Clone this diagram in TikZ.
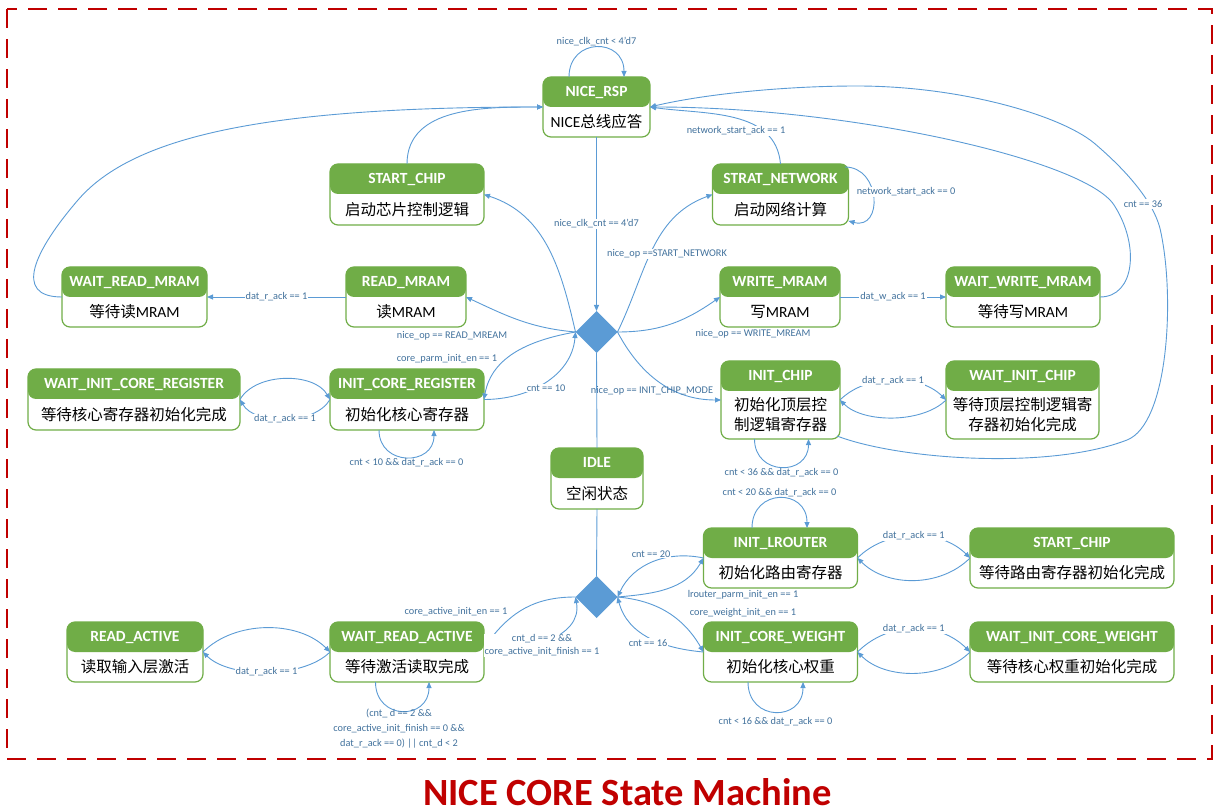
\documentclass[tikz,border=0pt]{standalone}
\usepackage{fontspec}
\setmainfont{Carlito}
\newfontfamily\cjk{Noto Sans CJK SC}
\usepackage{tikz}
\usetikzlibrary{shapes.geometric, calc, arrows.meta}

\definecolor{stgreen}{HTML}{70AD47}
\definecolor{lnblue}{HTML}{5B9BD5}
\definecolor{lbblue}{HTML}{41719C}
\definecolor{framered}{HTML}{C00000}

% state box: name, x, y, width, height, title, body
\newcommand{\fsmstate}[7]{%
  \node[statebox, minimum width=#4pt, minimum height=#5pt] (#1) at (#2,#3) {};
  \node[hdtext] (#1-t) at ([yshift=-19.5pt]#1.north) {#6};
  \node[bdtext] (#1-b) at ($(#1.south)!0.5!([yshift=-30pt]#1.north)$) {#7};
}

\begin{document}
\begin{tikzpicture}[x=1pt, y=1pt,
    statebox/.style={draw=stgreen, line width=1.2pt, rounded corners=8pt, fill=white, inner sep=0pt, outer sep=0pt,
      path picture={\fill[stgreen] (path picture bounding box.north west) rectangle ([yshift=-30pt]path picture bounding box.north east);}},
    hdtext/.style={font=\fontsize{15.5}{18}\selectfont\bfseries, text=white, anchor=base, inner sep=0pt},
    bdtext/.style={font=\fontsize{15.5}{20}\selectfont, align=center, inner sep=0pt},
    decide/.style={diamond, fill=lnblue, minimum width=42pt, minimum height=42pt, inner sep=0pt, outer sep=0pt},
    trans/.style={draw=lnblue, line width=0.9pt, -{Triangle[length=6pt,width=5pt]}},
    plainln/.style={draw=lnblue, line width=0.9pt},
    cond/.style={font=\fontsize{10.3}{13}\selectfont, text=lbblue, inner sep=1pt},
    condw/.style={cond, fill=white}]

        \useasboundingbox (0,0) rectangle (1219,-810);

        % Frame and title
        \draw[framered, line width=2.5pt, dash pattern=on 19pt off 11pt] (7,-9) rectangle (1212,-759);
        \node[font=\fontsize{38.5}{40}\selectfont\bfseries, text=framered, anchor=base, inner sep=0pt] (title) at (627.4,-805) {NICE CORE State Machine};

        % States
        \fsmstate{rsp}{596.5}{-107}{107}{60}{NICE\_RSP}{NICE{\cjk 总线应答}}
        \fsmstate{stchip}{407}{-194.5}{154}{61}{START\_CHIP}{{\cjk 启动芯片控制逻辑}}
        \fsmstate{stnet}{780.5}{-194.5}{136}{61}{STRAT\_NETWORK}{{\cjk 启动网络计算}}
        \fsmstate{wrmram}{134.5}{-297}{145}{60}{WAIT\_READ\_MRAM}{{\cjk 等待读}MRAM}
        \fsmstate{rmram}{406}{-297}{120}{60}{READ\_MRAM}{{\cjk 读}MRAM}
        \fsmstate{wmram}{780}{-297}{120}{60}{WRITE\_MRAM}{{\cjk 写}MRAM}
        \fsmstate{wwmram}{1023}{-297}{154}{60}{WAIT\_WRITE\_MRAM}{{\cjk 等待写}MRAM}
        \fsmstate{wicreg}{134}{-399.5}{212}{61}{WAIT\_INIT\_CORE\_REGISTER}{{\cjk 等待核心寄存器初始化完成}}
        \fsmstate{icreg}{407}{-399.5}{154}{61}{INIT\_CORE\_REGISTER}{{\cjk 初始化核心寄存器}}
        \fsmstate{ichip}{780.5}{-400}{119}{78}{INIT\_CHIP}{{\cjk 初始化顶层控}\\{\cjk 制逻辑寄存器}}
        \fsmstate{wichip}{1022.5}{-400}{153}{78}{WAIT\_INIT\_CHIP}{{\cjk 等待顶层控制逻辑寄}\\{\cjk 存器初始化完成}}
        \fsmstate{idle}{597}{-478.5}{92}{61}{IDLE}{{\cjk 空闲状态}}
        \fsmstate{ilr}{780.5}{-558}{154}{60}{INIT\_LROUTER}{{\cjk 初始化路由寄存器}}
        \fsmstate{stchipb}{1072}{-558}{204}{60}{START\_CHIP}{{\cjk 等待路由寄存器初始化完成}}
        \fsmstate{ract}{135}{-652}{136}{60}{READ\_ACTIVE}{{\cjk 读取输入层激活}}
        \fsmstate{wract}{407}{-652}{154}{60}{WAIT\_READ\_ACTIVE}{{\cjk 等待激活读取完成}}
        \fsmstate{icw}{780.5}{-652}{154}{60}{INIT\_CORE\_WEIGHT}{{\cjk 初始化核心权重}}
        \fsmstate{wicw}{1072}{-652}{204}{60}{WAIT\_INIT\_CORE\_WEIGHT}{{\cjk 等待核心权重初始化完成}}

        % Decision points
        \node[decide] (dtop) at (596.5,-332) {};
        \node[decide] (dbot) at (596.5,-597) {};

        % NICE_RSP
        \draw[trans] ([xshift=-27.5pt]rsp.north) to[out=90,in=90,looseness=1.85] node[cond,above] (l-rsp) {nice\_clk\_cnt < 4'd7} ([xshift=27.5pt]rsp.north);
        \draw[trans] (rsp.south) -- node[condw] (l-clk) {nice\_clk\_cnt == 4'd7} (dtop.north);
        \draw[trans] (wrmram.west) .. controls (12,-297) and (35,-250) .. (78,-200) .. controls (134,-135) and (270,-107) .. (rsp.west);
        \draw[trans] (stchip.north) to[out=90,in=180] (rsp.west);
        \draw[trans] (stnet.north) to[out=95,in=-8] (rsp.east);
        \node[condw] (l-netack1) at (736,-131) {network\_start\_ack == 1};
        \draw[trans] (wwmram.east) .. controls (1135,-297) and (1140,-245) .. (1114,-205) .. controls (1085,-160) and (850,-107) .. (rsp.east);
        \draw[trans] ([shift={(-3,3)}]ichip.south east) .. controls (900,-460) and (1050,-470) .. (1127,-440) .. controls (1168,-424) and (1175,-300) .. (1161,-233) .. controls (1155,-200) and (1120,-165) .. (1094,-143) .. controls (1060,-115) and (960,-86) .. (857,-86) .. controls (780,-86) and (700,-95) .. (rsp.east);
        \node[condw] (l-cnt36) at (1143,-204) {cnt == 36};

        % Upper decision
        \draw[trans] (dtop.west) to[out=103,in=-18] (stchip.east);
        \draw[trans] (dtop.west) to[out=175,in=-25] (rmram.east);
        \node[cond] (l-rdop) at (452,-336) {nice\_op == READ\_MREAM};
        \draw[trans] (dtop.west) to[out=190,in=80] (icreg.east);
        \node[cond] (l-parm) at (447,-359) {core\_parm\_init\_en == 1};
        \draw[trans] (icreg.east) to[out=0,in=-95] (dtop.west);
        \node[condw] (l-cnt10) at (546,-388) {cnt == 10};
        \draw[trans] (dtop.east) to[out=64,in=200] (stnet.west);
        \node[condw] (l-netop) at (667,-254) {nice\_op ==START\_NETWORK};
        \draw[trans] (dtop.east) to[out=0,in=215] (wmram.west);
        \node[cond] (l-wrop) at (753,-334) {nice\_op == WRITE\_MREAM};
        \draw[trans] (dtop.east) to[out=-62,in=180] (ichip.west);
        \node[cond] (l-chipop) at (652,-391) {nice\_op == INIT\_CHIP\_MODE};
        \draw[plainln] (dtop.south) -- (idle.north);
        \draw[plainln] (idle.south) -- (dbot.north);

        % Read and write MRAM
        \draw[trans] (rmram.west) -- node[condw] (l-rmram) {dat\_r\_ack == 1} (wrmram.east);
        \draw[trans] (wmram.east) -- node[condw] (l-wmram) {dat\_w\_ack == 1} (wwmram.west);
        \draw[trans] ([shift={(-3.5,-3)}]stnet.north east) to[out=0,in=-15,looseness=1.7] ([yshift=4]stnet.south east);
        \node[condw] (l-netack0) at (906,-192) {network\_start\_ack == 0};

        % Core register
        \draw[trans] (wicreg.east) to[out=60,in=120,looseness=0.9] (icreg.west);
        \draw[trans] (icreg.west) to[out=-120,in=-60,looseness=0.85] node[condw] (l-wicreg) {dat\_r\_ack == 1} (wicreg.east);
        \draw[trans] ([xshift=-28pt]icreg.south) to[out=-90,in=-90,looseness=1.7] node[cond,below] (l-icreg) {cnt < 10 \&\& dat\_r\_ack == 0} ([xshift=27pt]icreg.south);

        % Init chip
        \draw[trans] (ichip.east) to[out=45,in=135,looseness=0.9] node[condw] (l-ichip) {dat\_r\_ack == 1} (wichip.west);
        \draw[trans] (wichip.west) to[out=-135,in=-45,looseness=0.8] (ichip.east);
        \draw[trans] ([xshift=-26pt]ichip.south) to[out=-90,in=-90,looseness=1.77] node[cond,below] (l-ichipl) {cnt < 36 \&\& dat\_r\_ack == 0} ([xshift=28pt]ichip.south);

        % Lower decision
        \draw[trans] (dbot.east) to[out=5,in=240] (ilr.west);
        \node[cond] (l-lrparm) at (743,-595) {lrouter\_parm\_init\_en == 1};
        \draw[trans] (ilr.west) to[out=168,in=65] (dbot.east);
        \node[condw] (l-cnt20) at (651,-554) {cnt == 20};
        \draw[trans] (dbot.east) to[out=-5,in=120] (icw.west);
        \node[cond] (l-cwparm) at (743,-613) {core\_weight\_init\_en == 1};
        \draw[trans] (icw.west) to[out=175,in=-75] (dbot.east);
        \node[condw] (l-cnt16) at (648,-643) {cnt == 16};
        \coordinate (wract-in) at ([shift={(10.5,-12)}]wract.north east);
        \draw[plainln] (dbot.west) to[out=180,in=50] (wract-in);
        \node[cond] (l-actinit) at (456,-612) {core\_active\_init\_en == 1};
        \draw[trans] (wract.east) to[out=0,in=-80] (dbot.west);
        \node[condw, align=center] (l-actfin) at (542,-645.5) {cnt\_d == 2 \&\&\\core\_active\_init\_finish == 1};

        % Router and weights
        \draw[trans] ([xshift=-28.5pt]ilr.north) to[out=90,in=90,looseness=1.86] node[cond,above] (l-ilrl) {cnt < 20 \&\& dat\_r\_ack == 0} ([xshift=26.5pt]ilr.north);
        \draw[trans] (ilr.east) to[out=45,in=135,looseness=0.95] node[condw] (l-ilr) {dat\_r\_ack == 1} (stchipb.west);
        \draw[trans] (stchipb.west) to[out=-135,in=-45,looseness=0.95] (ilr.east);
        \draw[trans] (icw.east) to[out=45,in=135,looseness=1.0] node[condw] (l-icw) {dat\_r\_ack == 1} (wicw.west);
        \draw[trans] (wicw.west) to[out=-135,in=-45,looseness=0.9] (icw.east);
        \draw[trans] ([xshift=-32.5pt]icw.south) to[out=-90,in=-90,looseness=1.86] node[cond,below=4pt] (l-icwl) {cnt < 16 \&\& dat\_r\_ack == 0} ([xshift=22.5pt]icw.south);

        % Read active
        \draw[trans] (ract.east) to[out=45,in=135,looseness=0.91] (wract.west);
        \draw[trans] (wract.west) to[out=-135,in=-45,looseness=0.76] node[condw] (l-ract) {dat\_r\_ack == 1} (ract.east);
        \draw[trans] ([xshift=-31.5pt]wract.south) to[out=-90,in=-90,looseness=1.85] ([xshift=22pt]wract.south);
        \node[cond, align=center, font=\fontsize{10.3}{15}\selectfont] (l-wractl) at (399,-729) {(cnt\_ d == 2 \&\&\\core\_active\_init\_finish == 0 \&\&\\dat\_r\_ack == 0) || cnt\_d < 2};
    \end{tikzpicture}
\end{document}
